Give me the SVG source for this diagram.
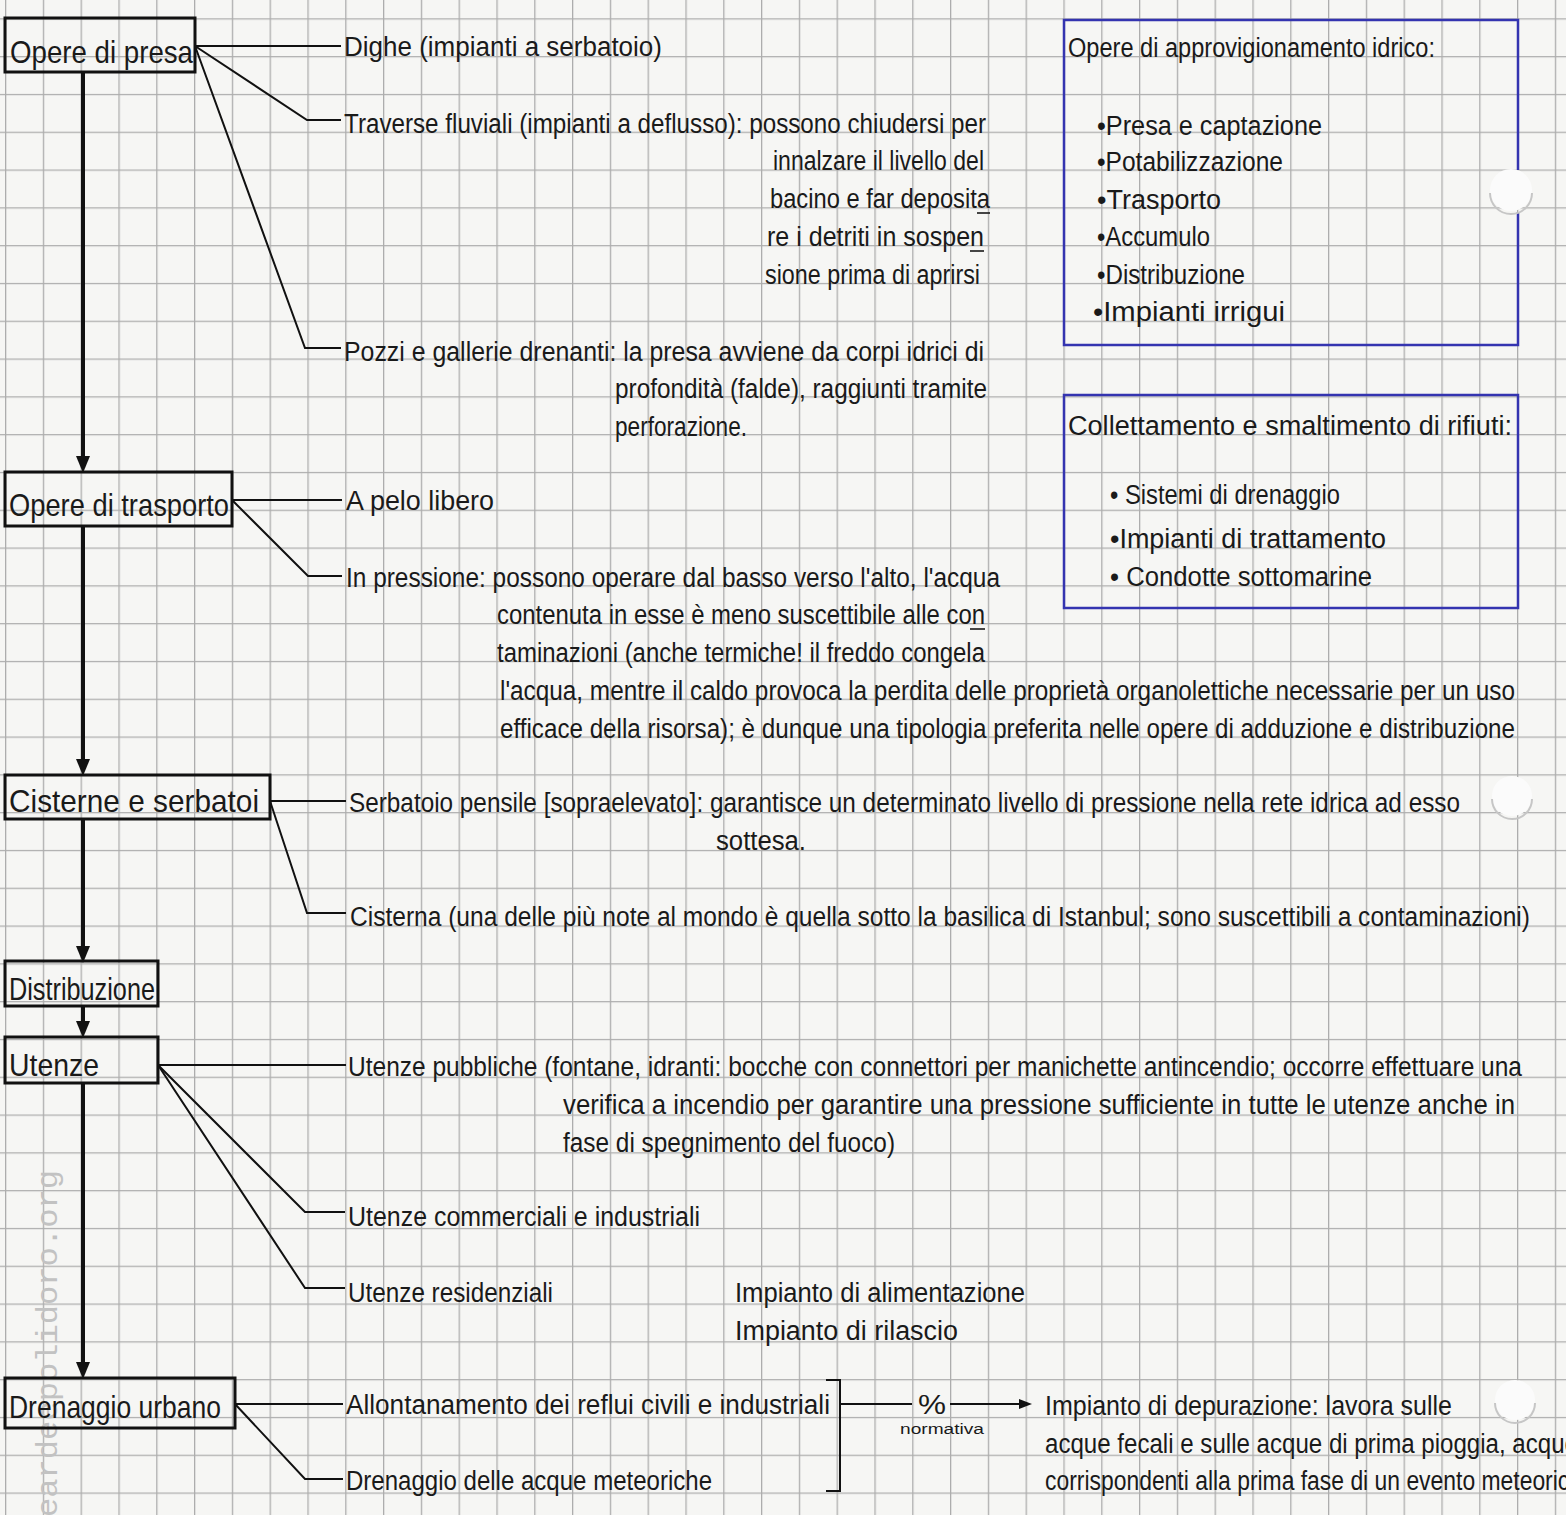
<svg xmlns="http://www.w3.org/2000/svg" width="1566" height="1515" viewBox="0 0 1566 1515">
<style>
.t{font-family:"Liberation Sans",Arial,sans-serif;font-size:27px;fill:#1a1a1a}
.lbl{font-size:32px}
.sm{font-size:14px}
.box{fill:none;stroke:#111;stroke-width:3}
.flow{fill:none;stroke:#111;stroke-width:4}
.br{fill:none;stroke:#111;stroke-width:2}
.ul{fill:none;stroke:#1a1a1a;stroke-width:1.6}
.blue{fill:none;stroke:#3434b0;stroke-width:2.5}
.hole{fill:#fbfbfb}
.holeedge{fill:none;stroke:#c6c6c6;stroke-width:2}
.wm{font-family:"Liberation Mono","DejaVu Sans Mono",monospace;font-size:30px;fill:#c2c2c2}
</style>
<defs>
<pattern id="grid" patternUnits="userSpaceOnUse" x="5" y="18.3" width="37.8" height="37.8">
<path d="M0,0.6H37.8M0.6,0V37.8" fill="none" stroke="#adadad" stroke-width="1.4"/>
</pattern>
<marker id="ah" markerUnits="userSpaceOnUse" markerWidth="18" markerHeight="16" refX="8" refY="7" orient="auto">
<path d="M0,0L17,7L0,14z" fill="#111"/>
</marker>
<marker id="ah2" markerUnits="userSpaceOnUse" markerWidth="14" markerHeight="12" refX="4" refY="5" orient="auto">
<path d="M0,0L13,5L0,10z" fill="#111"/>
</marker>
</defs>
<rect width="1566" height="1515" fill="#f6f6f4"/>
<rect width="1566" height="1515" fill="url(#grid)"/>

<text class="wm" transform="translate(57,1517) rotate(-90)" textLength="347" lengthAdjust="spacingAndGlyphs">eardeepolidoro.org</text>

<g id="connectors">
<path class="flow" d="M83,72V464" marker-end="url(#ah)"/>
<path class="flow" d="M83,526V767" marker-end="url(#ah)"/>
<path class="flow" d="M83,819V954" marker-end="url(#ah)"/>
<path class="flow" d="M83,1006V1029" marker-end="url(#ah)"/>
<path class="flow" d="M83,1083V1370" marker-end="url(#ah)"/>
<path class="br" d="M195,46H341"/>
<path class="br" d="M195,46L307,120H341"/>
<path class="br" d="M195,46L305,348H341"/>
<path class="br" d="M232,500H342"/>
<path class="br" d="M232,500L308,576H342"/>
<path class="br" d="M270,801H346"/>
<path class="br" d="M270,801L307,913H346"/>
<path class="br" d="M158,1065H346"/>
<path class="br" d="M158,1065L305,1212H345"/>
<path class="br" d="M158,1065L305,1288H345"/>
<path class="br" d="M235,1404H343"/>
<path class="br" d="M235,1404L305,1479H343"/>
<path class="br" d="M826,1380H840V1491H826"/>
<path class="br" d="M840,1404H912"/>
<path class="br" d="M950,1404H1023" marker-end="url(#ah2)"/>
</g>

<g id="n-presa">
<rect class="box" x="5" y="18" width="190" height="54"/>
<text class="t lbl" x="10" y="63" textLength="183" lengthAdjust="spacingAndGlyphs">Opere di presa</text>
</g>
<g id="n-dighe">
<text class="t" x="344" y="56" textLength="318" lengthAdjust="spacingAndGlyphs">Dighe (impianti a serbatoio)</text>
</g>
<g id="n-traverse">
<text class="t" x="344" y="133" textLength="642" lengthAdjust="spacingAndGlyphs">Traverse fluviali (impianti a deflusso): possono chiudersi per</text>
<text class="t" x="773" y="170" textLength="211" lengthAdjust="spacingAndGlyphs">innalzare il livello del</text>
<text class="t" x="770" y="208" textLength="220" lengthAdjust="spacingAndGlyphs">bacino e far deposita</text>
<path class="ul" d="M977,213H990"/>
<text class="t" x="767" y="246" textLength="217" lengthAdjust="spacingAndGlyphs">re i detriti in sospen</text>
<path class="ul" d="M970,251H984"/>
<text class="t" x="765" y="284" textLength="215" lengthAdjust="spacingAndGlyphs">sione prima di aprirsi</text>
</g>
<g id="n-pozzi">
<text class="t" x="344" y="361" textLength="640" lengthAdjust="spacingAndGlyphs">Pozzi e gallerie drenanti: la presa avviene da corpi idrici di</text>
<text class="t" x="615" y="398" textLength="372" lengthAdjust="spacingAndGlyphs">profondità (falde), raggiunti tramite</text>
<text class="t" x="615" y="436" textLength="132" lengthAdjust="spacingAndGlyphs">perforazione.</text>
</g>

<g id="n-trasporto">
<rect class="box" x="5" y="472" width="227" height="54"/>
<text class="t lbl" x="9" y="516" textLength="220" lengthAdjust="spacingAndGlyphs">Opere di trasporto</text>
</g>
<g id="n-pelo">
<text class="t" x="346" y="510" textLength="148" lengthAdjust="spacingAndGlyphs">A pelo libero</text>
</g>
<g id="n-pressione">
<text class="t" x="346" y="587" textLength="654" lengthAdjust="spacingAndGlyphs">In pressione: possono operare dal basso verso l'alto, l'acqua</text>
<text class="t" x="497" y="624" textLength="488" lengthAdjust="spacingAndGlyphs">contenuta in esse è meno suscettibile alle con</text>
<path class="ul" d="M970,629H985"/>
<text class="t" x="497" y="662" textLength="488" lengthAdjust="spacingAndGlyphs">taminazioni (anche termiche! il freddo congela</text>
<text class="t" x="500" y="700" textLength="1015" lengthAdjust="spacingAndGlyphs">l'acqua, mentre il caldo provoca la perdita delle proprietà organolettiche necessarie per un uso</text>
<text class="t" x="500" y="738" textLength="1015" lengthAdjust="spacingAndGlyphs">efficace della risorsa); è dunque una tipologia preferita nelle opere di adduzione e distribuzione</text>
</g>

<g id="n-cisterne">
<rect class="box" x="5" y="775" width="265" height="44"/>
<text class="t lbl" x="9" y="812" textLength="250" lengthAdjust="spacingAndGlyphs">Cisterne e serbatoi</text>
</g>
<g id="n-pensile">
<text class="t" x="349" y="812" textLength="1111" lengthAdjust="spacingAndGlyphs">Serbatoio pensile [sopraelevato]: garantisce un determinato livello di pressione nella rete idrica ad esso</text>
<text class="t" x="716" y="850" textLength="90" lengthAdjust="spacingAndGlyphs">sottesa.</text>
</g>
<g id="n-cisterna">
<text class="t" x="350" y="926" textLength="1180" lengthAdjust="spacingAndGlyphs">Cisterna (una delle più note al mondo è quella sotto la basilica di Istanbul; sono suscettibili a contaminazioni)</text>
</g>

<g id="n-distribuzione">
<rect class="box" x="5" y="961" width="153" height="45"/>
<text class="t lbl" x="9" y="1000" textLength="146" lengthAdjust="spacingAndGlyphs">Distribuzione</text>
</g>

<g id="n-utenze">
<rect class="box" x="5" y="1037" width="153" height="46"/>
<text class="t lbl" x="9" y="1076" textLength="90" lengthAdjust="spacingAndGlyphs">Utenze</text>
</g>
<g id="n-pubbliche">
<text class="t" x="348" y="1076" textLength="1174" lengthAdjust="spacingAndGlyphs">Utenze pubbliche (fontane, idranti: bocche con connettori per manichette antincendio; occorre effettuare una</text>
<text class="t" x="563" y="1114" textLength="952" lengthAdjust="spacingAndGlyphs">verifica a incendio per garantire una pressione sufficiente in tutte le utenze anche in</text>
<text class="t" x="563" y="1152" textLength="332" lengthAdjust="spacingAndGlyphs">fase di spegnimento del fuoco)</text>
</g>
<g id="n-commerciali">
<text class="t" x="348" y="1226" textLength="352" lengthAdjust="spacingAndGlyphs">Utenze commerciali e industriali</text>
</g>
<g id="n-residenziali">
<text class="t" x="348" y="1302" textLength="205" lengthAdjust="spacingAndGlyphs">Utenze residenziali</text>
<text class="t" x="735" y="1302" textLength="290" lengthAdjust="spacingAndGlyphs">Impianto di alimentazione</text>
<text class="t" x="735" y="1340" textLength="223" lengthAdjust="spacingAndGlyphs">Impianto di rilascio</text>
</g>

<g id="n-drenaggio">
<rect class="box" x="5" y="1378" width="230" height="50"/>
<text class="t lbl" x="9" y="1418" textLength="212" lengthAdjust="spacingAndGlyphs">Drenaggio urbano</text>
</g>
<g id="n-allontanamento">
<text class="t" x="346" y="1414" textLength="484" lengthAdjust="spacingAndGlyphs">Allontanamento dei reflui civili e industriali</text>
</g>
<g id="n-meteoriche">
<text class="t" x="346" y="1490" textLength="366" lengthAdjust="spacingAndGlyphs">Drenaggio delle acque meteoriche</text>
</g>
<g id="n-normativa">
<text class="t" x="918" y="1414" textLength="28" lengthAdjust="spacingAndGlyphs">%</text>
<text class="t sm" x="900" y="1434" textLength="84" lengthAdjust="spacingAndGlyphs">normativa</text>
</g>
<g id="n-depurazione">
<text class="t" x="1045" y="1415" textLength="407" lengthAdjust="spacingAndGlyphs">Impianto di depurazione: lavora sulle</text>
<text class="t" x="1045" y="1453" textLength="533" lengthAdjust="spacingAndGlyphs">acque fecali e sulle acque di prima pioggia, acque</text>
<text class="t" x="1045" y="1490" textLength="537" lengthAdjust="spacingAndGlyphs">corrispondenti alla prima fase di un evento meteorico</text>
</g>

<g id="n-approvvigionamento">
<path class="blue" d="M1518,170V20H1064V345H1518V212"/>
<text class="t" x="1068" y="57" textLength="367" lengthAdjust="spacingAndGlyphs">Opere di approvigionamento idrico:</text>
<text class="t" x="1097" y="135" textLength="225" lengthAdjust="spacingAndGlyphs">•Presa e captazione</text>
<text class="t" x="1097" y="171" textLength="186" lengthAdjust="spacingAndGlyphs">•Potabilizzazione</text>
<text class="t" x="1097" y="209" textLength="124" lengthAdjust="spacingAndGlyphs">•Trasporto</text>
<text class="t" x="1097" y="246" textLength="113" lengthAdjust="spacingAndGlyphs">•Accumulo</text>
<text class="t" x="1097" y="284" textLength="148" lengthAdjust="spacingAndGlyphs">•Distribuzione</text>
<text class="t" x="1093" y="321" textLength="192" lengthAdjust="spacingAndGlyphs">•Impianti irrigui</text>
</g>

<g id="n-collettamento">
<rect class="blue" x="1064" y="395" width="454" height="213"/>
<text class="t" x="1068" y="435" textLength="444" lengthAdjust="spacingAndGlyphs">Collettamento e smaltimento di rifiuti:</text>
<text class="t" x="1110" y="504" textLength="230" lengthAdjust="spacingAndGlyphs">• Sistemi di drenaggio</text>
<text class="t" x="1110" y="548" textLength="276" lengthAdjust="spacingAndGlyphs">•Impianti di trattamento</text>
<text class="t" x="1110" y="586" textLength="262" lengthAdjust="spacingAndGlyphs">• Condotte sottomarine</text>
</g>

<g id="holes">
<circle class="hole" cx="1511" cy="190" r="21"/>
<path class="holeedge" d="M1490,193A21,21 0 0 0 1532,193"/>
<circle class="hole" cx="1512" cy="796" r="20"/>
<path class="holeedge" d="M1492,799A20,20 0 0 0 1532,799"/>
<circle class="hole" cx="1515" cy="1400" r="20"/>
<path class="holeedge" d="M1495,1403A20,20 0 0 0 1535,1403"/>
</g>
</svg>
